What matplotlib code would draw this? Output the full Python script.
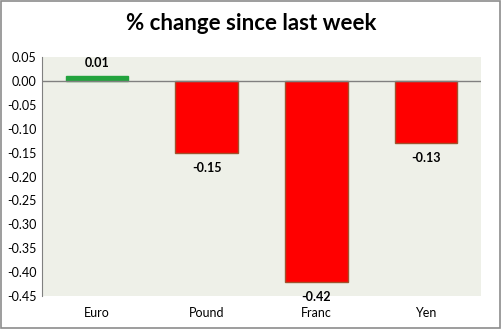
import matplotlib.pyplot as plt
from matplotlib.patches import Rectangle

currencies = ["Euro", "Pound", "Franc", "Yen"]
changes = [0.01, -0.15, -0.42, -0.13]
yticks = [0.05, 0.0, -0.05, -0.10, -0.15, -0.20, -0.25, -0.30, -0.35, -0.40, -0.45]

plt.rcParams["font.family"] = ["Lato", "DejaVu Sans"]

fig = plt.figure(figsize=(5.02, 3.29), dpi=100)
fig.patches.append(Rectangle((0.002, 0.003), 0.995, 0.993, transform=fig.transFigure,
                             fill=False, edgecolor="#8c8c8c", linewidth=1.2))
ax = fig.add_axes([0.0837, 0.1003, 0.8745, 0.7264])
ax.set_facecolor("#eef0e8")

colors = ["#22a33d" if v > 0 else "#ff0000" for v in changes]
edges = ["#22a33d" if v > 0 else "#a0522d" for v in changes]
x = range(len(currencies))
bars = ax.bar(x, changes, width=0.57, color=colors, edgecolor=edges, linewidth=1)

# value labels just outside the bar ends
for xi, v in zip(x, changes):
    if v > 0:
        ax.annotate(f"{v:.2f}", (xi, v), xytext=(0, 5), textcoords="offset points",
                    ha="center", va="bottom", fontsize=9, fontweight="bold")
    else:
        ax.annotate(f"{v:.2f}", (xi, v), xytext=(0, -6.5), textcoords="offset points",
                    ha="center", va="top", fontsize=9, fontweight="bold")

ax.axhline(0, color="#808080", linewidth=1)
ax.set_xlim(-0.5, 3.5)
ax.set_ylim(-0.45, 0.05)
ax.set_yticks(yticks)
ax.set_yticklabels([f"{t:.2f}" for t in yticks], fontsize=9)
ax.set_xticks(list(x))
ax.set_xticklabels(currencies, fontsize=9)
ax.tick_params(length=0, pad=4)
ax.tick_params(axis="x", pad=8)
for s in ["top", "right", "bottom"]:
    ax.spines[s].set_visible(False)
ax.spines["left"].set_color("#808080")

fig.suptitle("% change since last week", fontsize=16, fontweight="bold", y=0.96)

fig.savefig("out.png", dpi=100)
